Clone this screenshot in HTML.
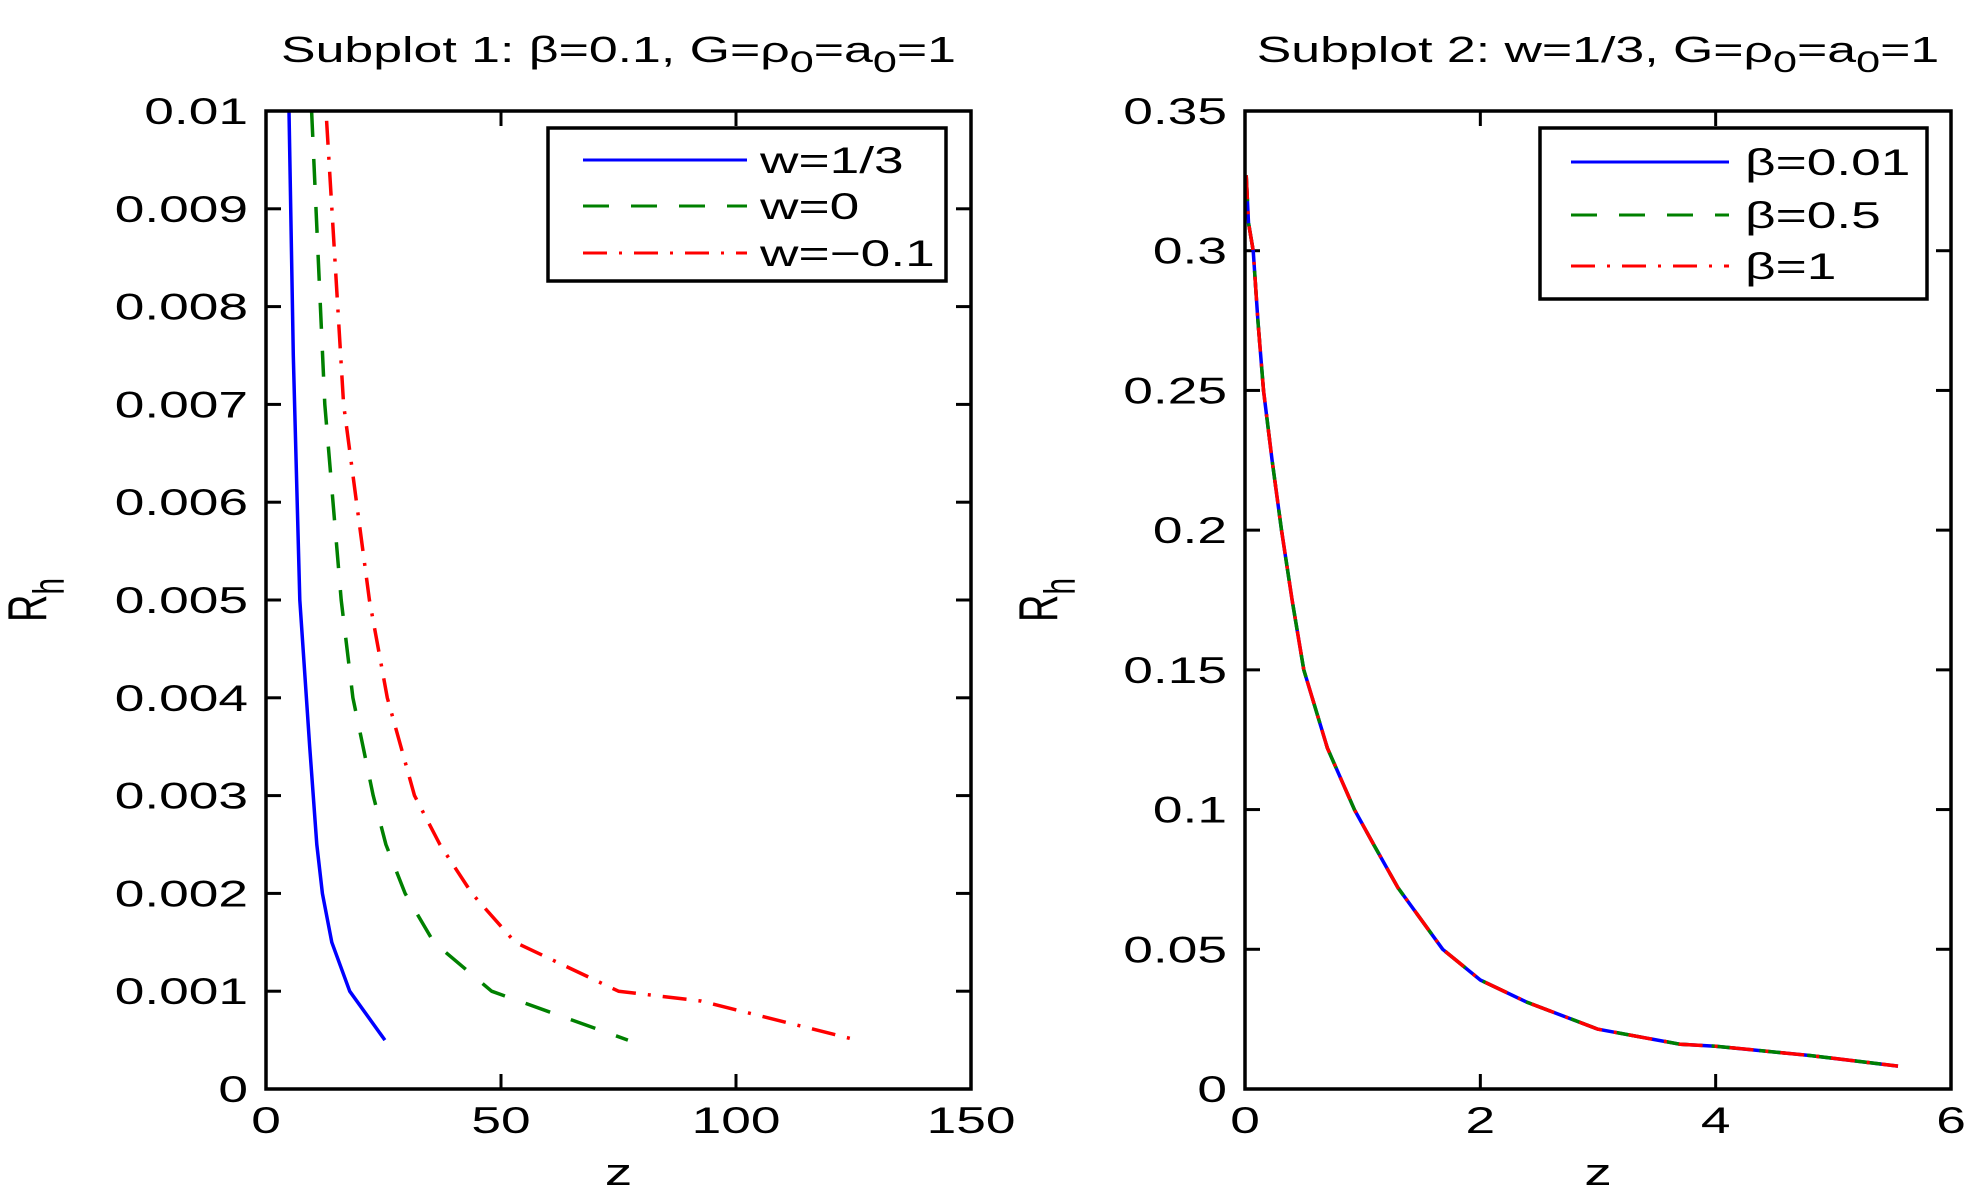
<!DOCTYPE html>
<html><head><meta charset="utf-8"><style>
html,body{margin:0;padding:0;background:#fff;}
svg{display:block;font-family:"Liberation Sans",sans-serif;}
</style></head><body>
<svg id="fig" width="1986" height="1198" viewBox="0 0 1986 1198"></svg>
<script>
// Subplot 1 data
const s1Categories = ["w=1/3","w=0","w=−0.1"];
const s1BlueZ = [4.9, 5.8, 7.2, 9.3, 10.8, 12, 14, 17.8, 25.3];
const s1BlueR = [0.01, 0.0075, 0.005, 0.0035, 0.0025, 0.002, 0.0015, 0.001, 0.0005];
const s1GreenZ = [9.7, 12.5, 16, 18.5, 22.8, 25.5, 29.6, 35.7, 48, 77];
const s1GreenR = [0.01, 0.007, 0.005, 0.004, 0.003, 0.0025, 0.002, 0.0015, 0.001, 0.0005];
const s1RedZ = [12.9, 16.5, 22, 25.8, 31.6, 37, 43.8, 53, 75, 92.5, 125.7];
const s1RedR = [0.0099, 0.007, 0.005, 0.004, 0.003, 0.0025, 0.002, 0.0015, 0.001, 0.0009, 0.0005];
const s1XTicks = [0, 50, 100, 150];
const s1YTicks = [0, 0.001, 0.002, 0.003, 0.004, 0.005, 0.006, 0.007, 0.008, 0.009, 0.01];
const s1YTickLabels = ["0","0.001","0.002","0.003","0.004","0.005","0.006","0.007","0.008","0.009","0.01"];
// Subplot 2 data
const s2Categories = ["β=0.01","β=0.5","β=1"];
const s2Z = [0.01,0.03,0.07,0.11,0.157,0.23,0.31,0.4,0.5,0.7,0.93,1.1,1.3,1.68,2,2.4,3,3.7,4,4.8,5.55];
const s2R = [0.327,0.31,0.30,0.275,0.25,0.225,0.2,0.175,0.15,0.122,0.1,0.087,0.072,0.05,0.039,0.031,0.0214,0.016,0.0153,0.012,0.0082];
const s2XTicks = [0, 2, 4, 6];
const s2YTicks = [0,0.05,0.1,0.15,0.2,0.25,0.3,0.35];
const s2YTickLabels = ["0","0.05","0.1","0.15","0.2","0.25","0.3","0.35"];

const NS="http://www.w3.org/2000/svg";
const SX=1.44;
const svg=document.getElementById('fig');
function mk(tag,attrs,parent){const e=document.createElementNS(NS,tag);for(const k in attrs)e.setAttribute(k,attrs[k]);(parent||svg).appendChild(e);return e;}
function txt(parent,x,y,size,anchor,html){
  const g=mk('g',{transform:`translate(${x},${y}) scale(${SX},1)`},parent);
  const t=mk('text',{x:0,y:0,'font-size':size,'text-anchor':anchor},g);
  t.innerHTML=html;
  return t;
}

function axes(opt){
  const g=mk('g',{});
  
  
  const {x0,x1,y0,y1,xmax,ymax}=opt;
  const sx=v=>x0+(v/xmax)*(x1-x0);
  const sy=v=>y1-(v/ymax)*(y1-y0);
  opt.xticks.forEach(t=>{
    const x=sx(t);
    mk('line',{x1:x,y1:y1,x2:x,y2:y1-15,stroke:'#000','stroke-width':3},g);
    mk('line',{x1:x,y1:y0,x2:x,y2:y0+15,stroke:'#000','stroke-width':3},g);
    const tx=txt(g,x,1133,37,'middle',String(t));
    
    
  });
  opt.yticks.forEach((t,i)=>{
    const y=sy(t);
    mk('line',{x1:x0,y1:y,x2:x0+15,y2:y,stroke:'#000','stroke-width':3},g);
    mk('line',{x1:x1,y1:y,x2:x1-15,y2:y,stroke:'#000','stroke-width':3},g);
    const tx=txt(g,x0-18,y+13,37,'end',opt.ylabels[i]);
    
    
  });
  opt.series.forEach(s=>{
    const pts=s.z.map((z,i)=>sx(z).toFixed(1)+','+sy(s.r[i]).toFixed(1)).join(' ');
    const p=mk('polyline',{points:pts,fill:'none',stroke:s.color,'stroke-width':3.5,'stroke-dasharray':s.dash||'none','stroke-linejoin':'round'},g);
    
    
  });
  const box=mk('rect',{x:x0,y:y0,width:x1-x0,height:y1-y0,fill:'none',stroke:'#000','stroke-width':3.5},g);
  
  
  const xl=txt(g,(x0+x1)/2,1185,38,'middle','z');
  
  
  const yg=mk('g',{transform:`translate(${opt.ylx},600) rotate(-90) scale(1,${SX})`},g);
  const yl=mk('text',{x:0,y:0,'font-size':38,'text-anchor':'middle'},yg);
  yl.innerHTML='R<tspan dy="12" font-size="30">h</tspan>';
  
  
  const tt=txt(g,(x0+x1)/2,62,36,'middle',opt.title);
  
  
  const L=opt.legend;
  const lg=mk('g',{},g);
  
  
  mk('rect',{x:L.x,y:L.y,width:L.w,height:L.h,fill:'#fff',stroke:'#000','stroke-width':3.5},lg);
  opt.series.forEach((s,i)=>{
    const y=L.rows[i];
    const e=mk('g',{},lg);
    
    
    mk('line',{x1:L.lx0,y1:y,x2:L.lx1,y2:y,stroke:s.color,'stroke-width':3,'stroke-dasharray':s.dash||'none'},e);
    txt(e,L.tx,y+13,37,'start',opt.cats[i]);
  });
}

const sub='<tspan dy="10" font-size="30">0</tspan><tspan dy="-10">';
axes({name:'subplot-1',x0:266,x1:971,y0:111,y1:1089,xmax:150,ymax:0.01,
  xticks:s1XTicks,yticks:s1YTicks,ylabels:s1YTickLabels,ylx:46,cats:s1Categories,
  title:'Subplot 1: β=0.1, G=ρ'+sub+'=a</tspan>'+sub+'=1</tspan>',
  series:[{name:'line-w-1-3',z:s1BlueZ,r:s1BlueR,color:'#0000ff'},
          {name:'line-w-0',z:s1GreenZ,r:s1GreenR,color:'#008000',dash:'26 22'},
          {name:'line-w-neg-0-1',z:s1RedZ,r:s1RedR,color:'#ff0000',dash:'24 12 3 12'}],
  legend:{x:548,y:128,w:398,h:153,rows:[160,206,253],lx0:583,lx1:747,tx:760}});

axes({name:'subplot-2',x0:1245,x1:1951,y0:111,y1:1089,xmax:6,ymax:0.35,
  xticks:s2XTicks,yticks:s2YTicks,ylabels:s2YTickLabels,ylx:1057,cats:s2Categories,
  title:'Subplot 2: w=1/3, G=ρ'+sub+'=a</tspan>'+sub+'=1</tspan>',
  series:[{name:'line-beta-0-01',z:s2Z,r:s2R,color:'#0000ff'},
          {name:'line-beta-0-5',z:s2Z,r:s2R,color:'#008000',dash:'26 22'},
          {name:'line-beta-1',z:s2Z,r:s2R,color:'#ff0000',dash:'24 12 3 12'}],
  legend:{x:1540,y:128,w:387,h:171,rows:[162,215,266],lx0:1571,lx1:1729,tx:1745}});
</script>
</body></html>
